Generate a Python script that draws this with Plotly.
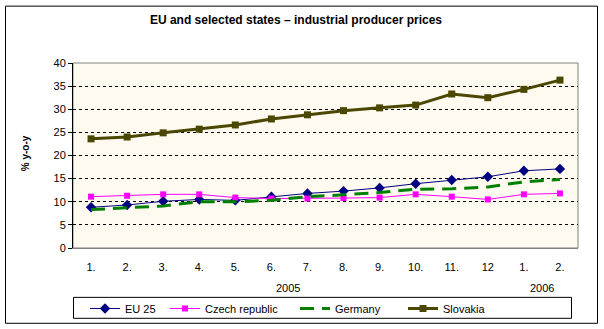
import plotly.graph_objects as go

months = ["1.", "2.", "3.", "4.", "5.", "6.", "7.", "8.", "9.", "10.", "11.", "12", "1.", "2."]
eu25 = [8.8, 9.3, 10.1, 10.5, 10.3, 11.1, 11.8, 12.3, 13.0, 13.9, 14.7, 15.4, 16.7, 17.1]
czech = [11.1, 11.3, 11.6, 11.6, 10.9, 10.7, 10.7, 10.8, 10.9, 11.6, 11.1, 10.5, 11.6, 11.8]
germany = [8.3, 8.7, 9.1, 10.0, 10.0, 10.3, 11.1, 11.5, 12.0, 12.7, 12.8, 13.2, 14.3, 14.8]
slovakia = [23.6, 24.0, 24.9, 25.7, 26.6, 27.9, 28.8, 29.7, 30.3, 30.9, 33.3, 32.5, 34.3, 36.3]
yticks = [0, 5, 10, 15, 20, 25, 30, 35, 40]

W, H = 604, 329
L, R, T, B = 73, 578, 62.5, 248

def px(x):
    return (x - L) / (R - L)

def py(y):
    return (B - y) / (B - T)

FONT = "Arial, Liberation Sans, sans-serif"
xs = list(range(len(months)))

fig = go.Figure()
fig.add_trace(go.Scatter(x=xs, y=eu25, name="EU 25", mode="lines+markers", legend="legend",
                         line=dict(color="#000080", width=1),
                         marker=dict(symbol="diamond", size=8, color="#000080")))
fig.add_trace(go.Scatter(x=xs, y=czech, name="Czech republic", mode="lines+markers", legend="legend2",
                         line=dict(color="#FF00FF", width=1),
                         marker=dict(symbol="square", size=6, color="#FF00FF")))
fig.add_trace(go.Scatter(x=xs, y=germany, name="Germany", mode="lines", legend="legend3",
                         line=dict(color="#008000", width=3, dash="14px,8px")))
fig.add_trace(go.Scatter(x=xs, y=slovakia, name="Slovakia", mode="lines+markers", legend="legend4",
                         line=dict(color="#4B4700", width=3),
                         marker=dict(symbol="square", size=7, color="#4B4700")))

def leg(xpix):
    return dict(orientation="h", xref="container", yref="container",
                x=xpix / W, xanchor="left", y=1 - 308.5 / H, yanchor="middle",
                bgcolor="rgba(0,0,0,0)", borderwidth=0, font=dict(size=11))

fig.update_layout(
    width=W, height=H,
    margin=dict(l=L, r=W - R, t=T, b=H - B, autoexpand=False),
    paper_bgcolor="white",
    plot_bgcolor="#FFFAF0",
    font=dict(family=FONT, size=11, color="black"),
    title=dict(text="<b>EU and selected states – industrial producer prices</b>",
               x=296 / W, xanchor="center", y=1 - 20 / H, yanchor="middle",
               font=dict(size=12, family=FONT)),
    xaxis=dict(range=[-0.5, len(months) - 0.5], tickvals=xs, ticktext=months,
               showgrid=False, zeroline=False, ticks="", ticklabelstandoff=9,
               showline=True, linecolor="#808080", linewidth=1,
               tickfont=dict(size=11)),
    yaxis=dict(range=[0, 40], tickvals=yticks, showgrid=True, gridcolor="black",
               griddash="3px,3px", gridwidth=1, zeroline=False,
               ticks="outside", ticklen=4, tickcolor="black",
               showline=True, linecolor="black", linewidth=1,
               tickfont=dict(size=11)),
    showlegend=True,
    legend=leg(85), legend2=leg(165), legend3=leg(295), legend4=leg(403),
)

# plot area border (grey)
fig.add_shape(type="rect", xref="paper", yref="paper", x0=0, x1=1, y0=0, y1=1,
              line=dict(color="#808080", width=1), layer="below")
# outer chart border
fig.add_shape(type="rect", xref="paper", yref="paper",
              x0=px(5.5), x1=px(597.5), y0=py(5.5), y1=py(323.5),
              line=dict(color="black", width=1))
# legend box
fig.add_shape(type="rect", xref="paper", yref="paper",
              x0=px(73.5), x1=px(571.5), y0=py(297.5), y1=py(318.5),
              line=dict(color="black", width=1))

fig.add_annotation(text="<b>% y-o-y</b>", textangle=-90, xref="paper", yref="paper",
                   x=px(25), y=py(153), xanchor="center", yanchor="middle",
                   showarrow=False, font=dict(size=10))
fig.add_annotation(text="2005", xref="paper", yref="paper", x=px(288), y=py(288),
                   xanchor="center", yanchor="middle", showarrow=False, font=dict(size=11))
fig.add_annotation(text="2006", xref="paper", yref="paper", x=px(542), y=py(288),
                   xanchor="center", yanchor="middle", showarrow=False, font=dict(size=11))

fig.write_html("out.html")
